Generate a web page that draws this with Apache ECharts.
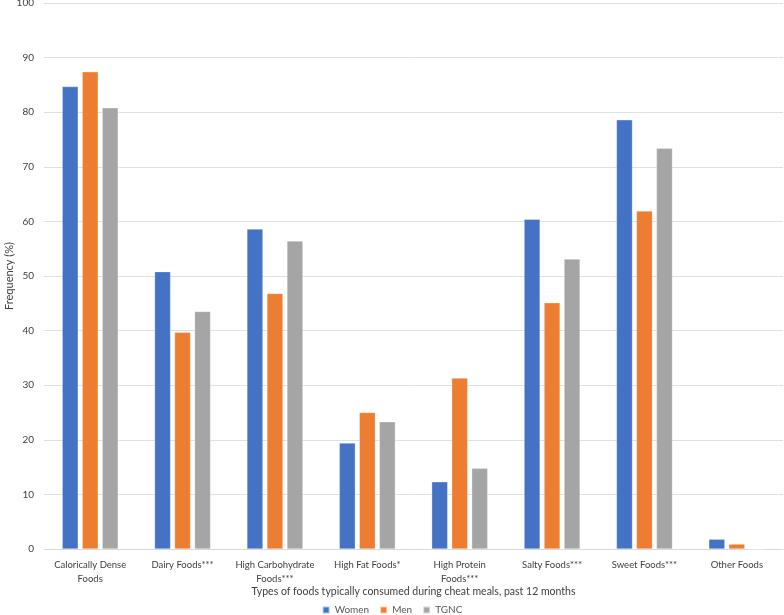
<!DOCTYPE html>
<html><head><meta charset="utf-8">
<script src="https://cdn.jsdelivr.net/npm/echarts@6/dist/echarts.min.js"></script>
<style>html,body{margin:0;padding:0;background:#fff}#c{width:784px;height:615px}</style>
</head><body><div id="c"></div>
<script>
const categories = ['Calorically Dense\nFoods','Dairy Foods***','High Carbohydrate\nFoods***','High Fat Foods*','High Protein\nFoods***','Salty Foods***','Sweet Foods***','Other Foods'];
const women = [84.7, 50.8, 58.6, 19.4, 12.3, 60.4, 78.6, 1.8];
const men   = [87.4, 39.7, 46.8, 25.0, 31.3, 45.1, 61.9, 0.9];
const tgnc  = [80.8, 43.5, 56.4, 23.3, 14.8, 53.1, 73.4, 0];
const yTicks = [0,10,20,30,40,50,60,70,80,90,100];
const font = 'Lato';
const chart = echarts.init(document.getElementById('c'));
function s(name, data, color){
  return {name, type:'bar', data, barWidth:16, barGap:'25%',
    itemStyle:{color, borderColor:'rgba(255,255,255,0.6)', borderWidth:0.5}};
}
chart.setOption({
  animation:false,
  textStyle:{fontFamily:font},
  grid:{left:44, right:1, top:3, bottom:66, outerBoundsMode:'none', containLabel:false},
  legend:{top:600, left:'center', itemWidth:7, itemHeight:7, itemGap:10,
    icon:'rect', textStyle:{fontSize:10, color:'#595959', fontFamily:font},
    data:['Women','Men','TGNC']},
  xAxis:{type:'category', data:categories,
    name:'Types of foods typically consumed during cheat meals, past 12 months',
    nameLocation:'middle', nameGap:37, nameMoveOverlap:false,
    nameTextStyle:{fontSize:10.5, color:'#404040', fontFamily:font},
    axisLine:{lineStyle:{color:'#d9d9d9'}}, axisTick:{show:false},
    axisLabel:{fontSize:9.5, color:'#404040', interval:0, lineHeight:14, margin:9, fontFamily:font}},
  yAxis:{type:'value', min:0, max:100, interval:10,
    name:'Frequency (%)', nameLocation:'middle', nameGap:29, nameRotate:90, nameMoveOverlap:false,
    nameTextStyle:{fontSize:11, color:'#404040', fontFamily:font},
    axisLabel:{fontSize:10, color:'#404040', margin:10, fontFamily:font,
      formatter:v=>yTicks.includes(v)?String(v):''},
    splitLine:{lineStyle:{color:'#e0e0e0'}}, axisLine:{show:false}, axisTick:{show:false}},
  series:[s('Women',women,'#4472C4'), s('Men',men,'#ED7D31'), s('TGNC',tgnc,'#A5A5A5')]
});
</script></body></html>
